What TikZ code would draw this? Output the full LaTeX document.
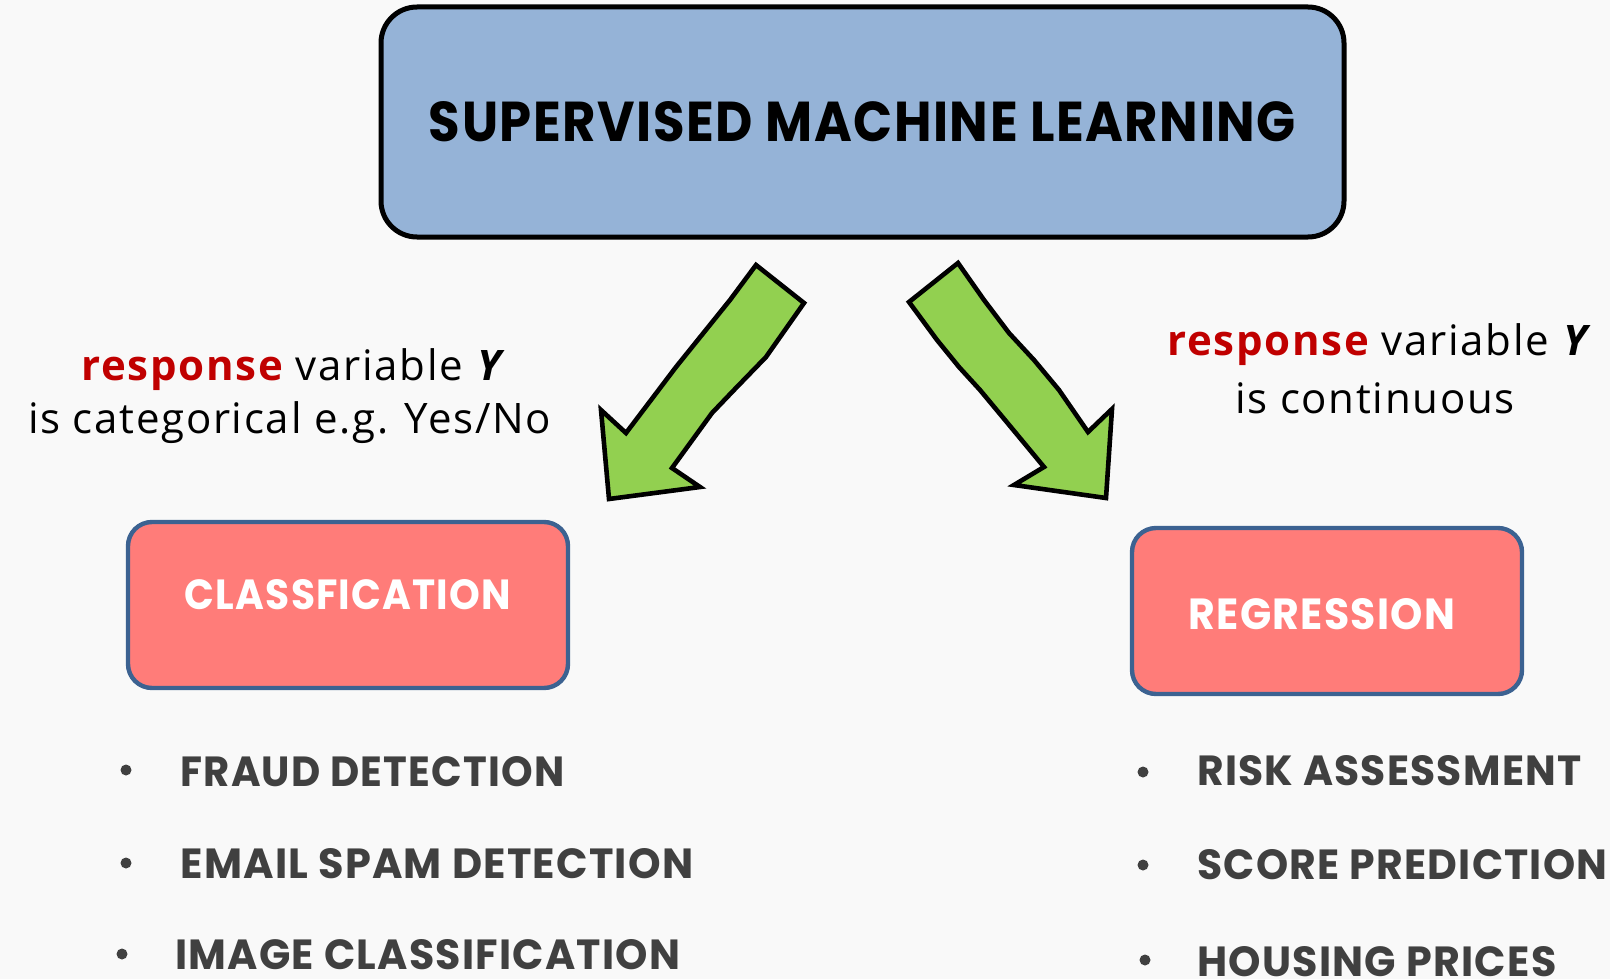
\documentclass[tikz,border=0pt]{standalone}
\usepackage{fontspec}
\usepackage{graphicx}
\setmainfont{Open Sans}
\newfontfamily\comic{Poppins}[LetterSpace=3]
\newfontfamily\labfont{Open Sans}[LetterSpace=4]
\definecolor{bg}{HTML}{F9F9F9}
\definecolor{topblue}{HTML}{95B3D7}
\definecolor{pink}{HTML}{FF7C79}
\definecolor{boxedge}{HTML}{3C6291}
\definecolor{arrowgreen}{HTML}{92D050}
\definecolor{itemgray}{HTML}{404040}
\definecolor{resp}{HTML}{C00000}
\newcommand{\fitto}[3]{\resizebox{#1}{#2}{\comic\bfseries #3}}
\begin{document}
\begin{tikzpicture}[x=0.5pt,y=-0.5pt,
  titlebox/.style={draw=black, line width=2.5pt, fill=topblue, rounded corners=18pt, inner sep=0pt},
  catbox/.style={draw=boxedge, line width=2.2pt, fill=pink, inner sep=0pt, rounded corners=12pt},
  bigarrow/.style={draw=black, line width=2.3pt, fill=arrowgreen, line join=miter, miter limit=4},
  plain/.style={inner sep=0pt, outer sep=0pt},
  lab/.style={inner sep=0pt, anchor=base, font=\labfont\fontsize{21}{24}\selectfont},
  item/.style={inner sep=0pt, anchor=west, text=itemgray},
  bullet/.style={fill=itemgray}
]
\useasboundingbox (0,0) rectangle (1610,979);
\fill[bg] (0,0) rectangle (1610,979);

% top box
\node[titlebox, minimum width=481.5pt, minimum height=115pt] (top) at (862.5,122) {};
\node[plain] (toptext) at (862.5,122) {\fitto{433.5pt}{20pt}{SUPERVISED MACHINE LEARNING}};

% arrows
\draw[bigarrow] (756,265) -- (804,303) -- (766,357) -- (734,390) -- (712,413) -- (672,468)
  -- (700,487) -- (609,499) -- (601,410) -- (626,433) -- (676,367) -- (730,300) -- cycle;
\draw[bigarrow] (958,263) -- (984,300) -- (1009,333) -- (1034,360) -- (1059,390) -- (1088,432)
  -- (1112,409) -- (1106,498) -- (1014,485) -- (1044,467) -- (1005,420) -- (980,390)
  -- (959,367) -- (937,340) -- (909,302) -- cycle;

% labels
\node[lab] (l1) at (294,380) {\textcolor{resp}{\bfseries response} variable \textbf{\textit{Y}}};
\node[lab] (l2) at (289.5,433) {is categorical e.g. Yes/No};
\node[lab] (r1) at (1380,355) {\textcolor{resp}{\bfseries response} variable \textbf{\textit{Y}}};
\node[lab] (r2) at (1375,413) {is continuous};

% category boxes
\node[catbox, minimum width=220pt, minimum height=83pt] (cls) at (348,605) {};
\node[plain, text=white] (clstext) at (348,595) {\fitto{163pt}{15pt}{CLASSFICATION}};
\node[catbox, minimum width=195pt, minimum height=83pt] (reg) at (1327,611) {};
\node[plain, text=white] (regtext) at (1322,614) {\fitto{133pt}{15.5pt}{REGRESSION}};

% items left
\fill[bullet] (126,770) circle (5.5);
\fill[bullet] (126,863) circle (5.5);
\fill[bullet] (122,954) circle (5.5);
\node[item] (i1) at (180,772) {\fitto{192pt}{15pt}{FRAUD DETECTION}};
\node[item] (i2) at (180,864) {\fitto{256.5pt}{15pt}{EMAIL SPAM DETECTION}};
\node[item] (i3) at (175,955) {\fitto{252.5pt}{15pt}{IMAGE CLASSIFICATION}};

% items right
\fill[bullet] (1143,772) circle (5.5);
\fill[bullet] (1143,865) circle (5.5);
\fill[bullet] (1145,960) circle (5.5);
\node[item] (j1) at (1197,771) {\fitto{192pt}{15pt}{RISK ASSESSMENT}};
\node[item] (j2) at (1197,865) {\fitto{205pt}{15pt}{SCORE PREDICTION}};
\node[item] (j3) at (1197,962) {\fitto{179.5pt}{15pt}{HOUSING PRICES}};
\end{tikzpicture}
\end{document}
